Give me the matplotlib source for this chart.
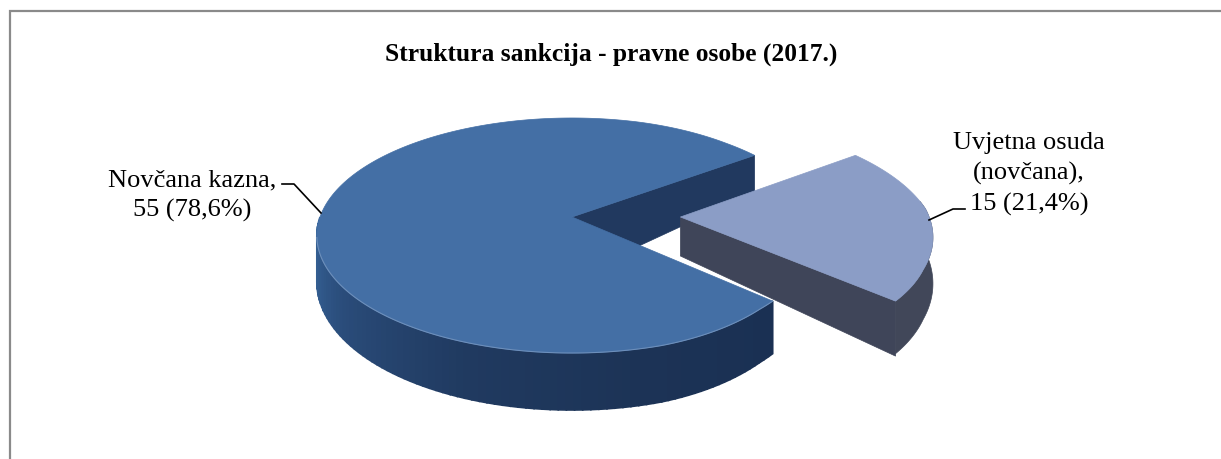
import numpy as np
import matplotlib
matplotlib.use('Agg')
import matplotlib.pyplot as plt
from matplotlib.colors import to_rgb

# data
categories = ['Novčana kazna', 'Uvjetna osuda\n(novčana)']
counts = [55, 15]
percents = ['78,6%', '21,4%']
title = 'Struktura sankcija - pravne osobe (2017.)'

plt.rcParams['font.family'] = ['Liberation Serif', 'DejaVu Serif']

# pie geometry in image pixels (y grows downwards)
CX, CY = 572, 217
RX, RY, PERSP = 252, 114.6, 0.1574
EXPLODE = 0.437
GAP_START = 36.0  # angle where the small slice begins, going clockwise
FS = 19


def project(u, v):
    u, v = np.asarray(u, float), np.asarray(v, float)
    w = 1 + PERSP * v
    # the excel perspective leans a little, right side comes in
    lean = np.clip(5 - 14 * v, 4, 11) * np.clip((u - 0.3) * 2.5, 0, 1)
    return CX + RX * u / w - lean, CY - RY * v / w


def depth(v):
    return 44 - 13 * v


def mix(c1, c2, t):
    a, b = np.array(to_rgb(c1)), np.array(to_rgb(c2))
    return tuple(a + (b - a) * t)


def arc(a1, a2, n=200):
    return np.radians(np.linspace(a1, a2, n))


def draw_wall(ax, us, vs, color, zorder, deps=None, lw=0.5):
    # one wall as a polygon, top edge from the projection, bottom edge pushed down
    xs, ys = project(us, vs)
    d = depth(np.asarray(vs)) if deps is None else np.asarray(deps)
    ax.fill(np.r_[xs, xs[::-1]], np.r_[ys, (ys + d)[::-1]], color=color, lw=lw, zorder=zorder)


total = sum(counts)
small_sweep = 360.0 * counts[1] / total
gap_end = GAP_START - small_sweep

fig = plt.figure(figsize=(12.21, 4.59), dpi=100)
ax = fig.add_axes([0, 0, 1, 1])
ax.set_xlim(0, 1221)
ax.set_ylim(459, 0)
ax.axis('off')

# only the left and top chart border fall inside the crop
ax.plot([10, 10, 1221], [459, 11, 11], color='#8a8a8a', lw=1.6, solid_joinstyle='miter', zorder=1)

# inner face of the large slice (the part seen through the gap)
t = np.radians(GAP_START)
draw_wall(ax, [0, np.cos(t)], [0, np.sin(t)], '#21395f', 2, deps=[60, 37])

# small slice, pulled out to the right
t2 = np.radians(gap_end)
draw_wall(ax, [EXPLODE, np.cos(t2) + EXPLODE], [0, np.sin(t2)], '#3f4559', 3, deps=[39, 55])
a = arc(gap_end, 8, 60)
draw_wall(ax, np.cos(a) + EXPLODE, np.sin(a), '#414759', 3)
a = arc(GAP_START, gap_end)
px, py = project(np.r_[EXPLODE, np.cos(a) + EXPLODE], np.r_[0, np.sin(a)])
ax.fill(px, py, color='#8b9dc6', lw=0.5, zorder=4)

# large slice, side wall runs from the left (lit) to the right (dark)
a = arc(180, 360 + gap_end, 90)
colors = ['#3a6aa0', '#2a4c7a', '#203a60', '#1c3356', '#1a3053']
for i in range(len(a) - 1):
    pos = i / (len(a) - 2) * (len(colors) - 1)
    k = min(int(pos), len(colors) - 2)
    draw_wall(ax, np.cos(a[i:i + 2]), np.sin(a[i:i + 2]), mix(colors[k], colors[k + 1], pos - k), 5, lw=1.2)

a = arc(GAP_START, 360 + gap_end, 400)
px, py = project(np.r_[0, np.cos(a)], np.r_[0, np.sin(a)])
ax.fill(px, py, color='#446fa5', lw=0.5, zorder=6)
# thin light edge along the front of the top face
a = arc(190, 360 + gap_end, 120)
px, py = project(np.cos(a), np.sin(a))
ax.plot(px, py, color='#6d8fbb', lw=0.8, zorder=7)

# title and labels
ax.text(611.5, 54, title, ha='center', va='center', fontsize=18.4, fontweight='bold', color='black')
ax.text(192, 186, f'{categories[0]},', ha='center', va='baseline', fontsize=FS, color='black')
ax.text(192, 217, f'{counts[0]} ({percents[0]})', ha='center', va='baseline', fontsize=FS, color='black')
lab = categories[1].split('\n')
ax.text(1029, 149, lab[0], ha='center', va='baseline', fontsize=FS, color='black')
ax.text(1029, 180, f'{lab[1]},', ha='center', va='baseline', fontsize=FS, color='black')
ax.text(1029, 211, f'{counts[1]} ({percents[1]})', ha='center', va='baseline', fontsize=FS, color='black')

# leader lines
ax.plot([282, 294, 321], [184, 184, 213], color='black', lw=1.2, zorder=8)
ax.plot([965, 953, 929], [209, 209, 220], color='black', lw=1.2, zorder=8)

fig.savefig('out.png', dpi=100)
